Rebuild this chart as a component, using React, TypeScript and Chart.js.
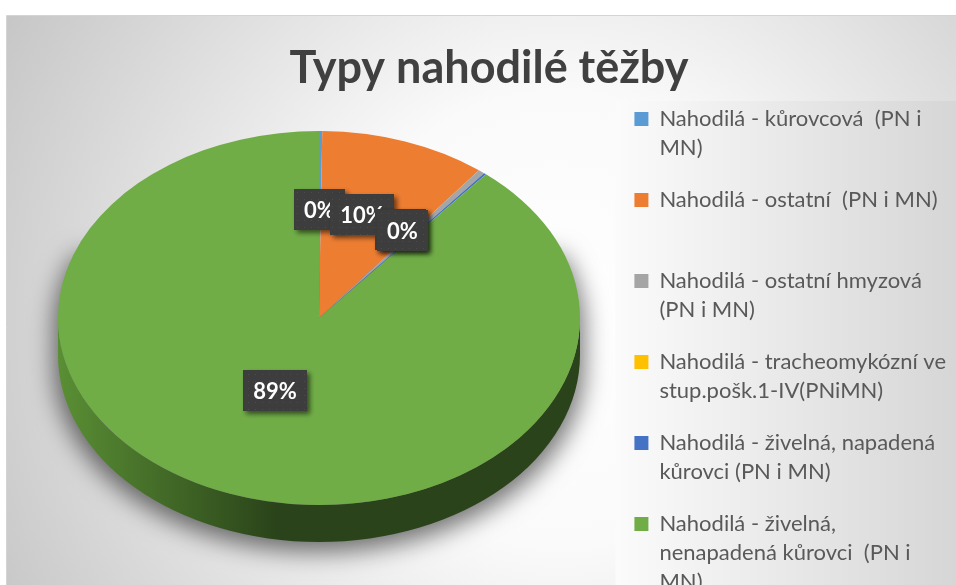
import React, { useEffect, useRef } from "react";
import { Chart, registerables } from "chart.js";

Chart.register(...registerables);

// ---------- data ----------
const TITLE = "Typy nahodilé těžby";

const CATEGORIES = [
  "Nahodilá - kůrovcová  (PN i MN)",
  "Nahodilá - ostatní  (PN i MN)",
  "Nahodilá - ostatní hmyzová (PN i MN)",
  "Nahodilá - tracheomykózní ve stup.pošk.1-IV(PNiMN)",
  "Nahodilá - živelná, napadená kůrovci (PN i MN)",
  "Nahodilá - živelná, nenapadená kůrovci  (PN i MN)",
];

// legend text as wrapped in the reference
const LEGEND_LINES = [
  ["Nahodilá - kůrovcová  (PN i", "MN)"],
  ["Nahodilá - ostatní  (PN i MN)", ""],
  ["Nahodilá - ostatní hmyzová", "(PN i MN)"],
  ["Nahodilá - tracheomykózní ve", "stup.pošk.1-IV(PNiMN)"],
  ["Nahodilá - živelná, napadená", "kůrovci (PN i MN)"],
  ["Nahodilá - živelná,", "nenapadená kůrovci  (PN i", "MN)"],
];

// share of each type (%)
const VALUES = [0.2, 10.3, 0.4, 0, 0.15, 88.95];

const COLORS = ["#5B9BD5", "#ED7D31", "#A5A5A5", "#FFC000", "#4472C4", "#70AD47"];
const SIDE_LIGHT = ["#4a7fb0", "#c4682a", "#8a8a8a", "#d4a000", "#385fa3", "#5a8f34"];
const SIDE_DARK = ["#244262", "#6e3a16", "#4d4d4d", "#775a00", "#1f3559", "#2a431a"];

// ---------- geometry / style ----------
const PIE_X = 319;
const PIE_Y = 318;
const PIE_RX = 261;
const PIE_RY = 187;
const PIE_DEPTH = 37;
const LABEL_R = 0.5;
const LABEL_DY = -15;
const FONT = "Lato, 'Open Sans', 'DejaVu Sans', sans-serif";

function makePattern(ctx: CanvasRenderingContext2D) {
  const c = document.createElement("canvas");
  c.width = 7;
  c.height = 7;
  const p = c.getContext("2d")!;
  p.fillStyle = "#3d3d3d";
  p.fillRect(0, 0, 7, 7);
  p.fillStyle = "#4c4c4c";
  p.fillRect(3, 3, 1, 1);
  return ctx.createPattern(c, "repeat") || "#3d3d3d";
}

const framePlugin = {
  id: "frame",
  beforeDraw(chart: any) {
    const { ctx, width, height } = chart;
    ctx.save();
    ctx.fillStyle = "#ffffff";
    ctx.fillRect(0, 0, width, height);
    const g = ctx.createRadialGradient(560, 320, 0, 560, 320, 650);
    g.addColorStop(0, "#ffffff");
    g.addColorStop(0.35, "#fafafa");
    g.addColorStop(1, "#c4c4c4");
    ctx.fillStyle = g;
    ctx.fillRect(7, 15, width - 7, height - 15);
    const lg = chart.legend;
    if (lg) {
      const x0 = lg.left + 4;
      const y0 = lg.top + 16;
      const lgG = ctx.createLinearGradient(x0, 0, width, 0);
      lgG.addColorStop(0, "#fbfbfb");
      lgG.addColorStop(1, "#d6d6d6");
      ctx.fillStyle = lgG;
      ctx.fillRect(x0, y0, width - x0, height - y0);
    }
    ctx.strokeStyle = "#d4d4d4";
    ctx.lineWidth = 1;
    ctx.beginPath();
    ctx.moveTo(6.5, height);
    ctx.lineTo(6.5, 15.5);
    ctx.lineTo(width, 15.5);
    ctx.stroke();
    ctx.restore();
  },
};

const pie3dPlugin = {
  id: "pie3d",
  _saved: false,
  beforeDatasetsDraw(chart: any) {
    const meta = chart.getDatasetMeta(0);
    const arcs = meta.data;
    (pie3dPlugin as any)._saved = false;
    if (!arcs || !arcs.length) return;
    const ctx: CanvasRenderingContext2D = chart.ctx;

    // soft shadow under the pie (only the shadow is painted)
    const OFF = 3000;
    ctx.save();
    ctx.shadowColor = "rgba(0,0,0,0.55)";
    ctx.shadowBlur = 24;
    ctx.shadowOffsetX = 0;
    ctx.shadowOffsetY = OFF + 10;
    ctx.fillStyle = "#000";
    ctx.translate(0, -OFF);
    ctx.beginPath();
    ctx.ellipse(PIE_X, PIE_Y, PIE_RX + 4, PIE_RY, 0, -0.4, Math.PI + 0.4);
    ctx.closePath();
    ctx.rect(PIE_X - PIE_RX - 4, PIE_Y, 2 * PIE_RX + 8, PIE_DEPTH);
    ctx.moveTo(PIE_X + PIE_RX + 4, PIE_Y + PIE_DEPTH);
    ctx.ellipse(PIE_X, PIE_Y + PIE_DEPTH, PIE_RX + 4, PIE_RY, 0, 0, Math.PI);
    ctx.closePath();
    ctx.fill("nonzero");
    ctx.restore();

    // side walls (front half)
    arcs.forEach((arc: any, i: number) => {
      const { startAngle, endAngle } = arc.getProps(["startAngle", "endAngle"], true);
      const a1 = Math.max(startAngle, 0);
      const a2 = Math.min(endAngle, Math.PI);
      if (a2 <= a1) return;
      const grad = ctx.createLinearGradient(PIE_X - PIE_RX, 0, PIE_X + PIE_RX, 0);
      grad.addColorStop(0, SIDE_LIGHT[i]);
      grad.addColorStop(0.42, SIDE_DARK[i]);
      grad.addColorStop(1, SIDE_DARK[i]);
      ctx.save();
      ctx.fillStyle = grad;
      ctx.beginPath();
      ctx.ellipse(PIE_X, PIE_Y, PIE_RX, PIE_RY, 0, a1, a2);
      ctx.ellipse(PIE_X, PIE_Y + PIE_DEPTH, PIE_RX, PIE_RY, 0, a2, a1, true);
      ctx.closePath();
      ctx.fill();
      ctx.restore();
    });

    // tilt the top face
    const { x, y, outerRadius } = arcs[0].getProps(["x", "y", "outerRadius"], true);
    ctx.save();
    ctx.translate(PIE_X, PIE_Y);
    ctx.scale(PIE_RX / outerRadius, PIE_RY / outerRadius);
    ctx.translate(-x, -y);
    (pie3dPlugin as any)._saved = true;
  },
  afterDatasetsDraw(chart: any) {
    const ctx: CanvasRenderingContext2D = chart.ctx;
    if ((pie3dPlugin as any)._saved) ctx.restore();
    const meta = chart.getDatasetMeta(0);
    const arcs = meta.data;
    const data: number[] = chart.data.datasets[0].data;
    const total = data.reduce((a, b) => a + b, 0);
    const pattern = makePattern(ctx);
    arcs.forEach((arc: any, i: number) => {
      const v = data[i];
      if (!v) return;
      const { startAngle, endAngle } = arc.getProps(["startAngle", "endAngle"], true);
      const mid = (startAngle + endAngle) / 2;
      const lx = PIE_X + LABEL_R * PIE_RX * Math.cos(mid);
      const ly = PIE_Y + LABEL_R * PIE_RY * Math.sin(mid) + LABEL_DY;
      const text = Math.round((v / total) * 100) + "%";
      ctx.save();
      ctx.font = `bold 22px ${FONT}`;
      const tw = ctx.measureText(text).width;
      const bw = Math.round(tw + 20);
      const bh = 41;
      const bx = Math.round(lx - bw / 2);
      const by = Math.round(ly - bh / 2);
      ctx.shadowColor = "rgba(0,0,0,0.55)";
      ctx.shadowBlur = 5;
      ctx.shadowOffsetX = 3;
      ctx.shadowOffsetY = 3;
      ctx.fillStyle = pattern as any;
      ctx.fillRect(bx, by, bw, bh);
      ctx.restore();
      ctx.save();
      ctx.font = `bold 22px ${FONT}`;
      ctx.fillStyle = "#ffffff";
      ctx.textAlign = "center";
      ctx.textBaseline = "middle";
      ctx.fillText(text, bx + bw / 2, by + bh / 2 + 1);
      ctx.restore();
    });
  },
};

export default function App() {
  const ref = useRef<HTMLCanvasElement | null>(null);

  useEffect(() => {
    document.body.style.margin = "0";
    const canvas = ref.current;
    if (!canvas) return;
    const chart = new Chart(canvas, {
      type: "pie",
      data: {
        labels: CATEGORIES,
        datasets: [
          {
            data: VALUES,
            backgroundColor: COLORS,
            borderWidth: 0,
          },
        ],
      },
      options: {
        responsive: false,
        animation: false,
        devicePixelRatio: 1,
        events: [],
        rotation: 0,
        layout: { padding: { left: 22, top: 15, right: 0, bottom: 0 } },
        plugins: {
          tooltip: { enabled: false },
          title: {
            display: true,
            text: TITLE,
            color: "#404040",
            font: { family: FONT, size: 45, weight: "bold", lineHeight: "34px" },
            padding: { top: 36, bottom: 0 },
          },
          legend: {
            display: true,
            position: "right",
            align: "start",
            fullSize: false,
            labels: {
              boxWidth: 14,
              boxHeight: 14,
              padding: 23,
              color: "#595959",
              font: { family: FONT, size: 22, lineHeight: "29px" },
              generateLabels: () =>
                LEGEND_LINES.map((lines, i) => ({
                  text: lines as any,
                  fillStyle: COLORS[i],
                  strokeStyle: COLORS[i],
                  lineWidth: 0,
                  hidden: false,
                  index: i,
                  fontColor: "#595959",
                })),
            },
          },
        },
      } as any,
      plugins: [framePlugin, pie3dPlugin],
    });
    return () => chart.destroy();
  }, []);

  return (
    <div style={{ width: 956, height: 585, overflow: "hidden", position: "relative" }}>
      <canvas ref={ref} width={956} height={640} style={{ display: "block" }} />
    </div>
  );
}
